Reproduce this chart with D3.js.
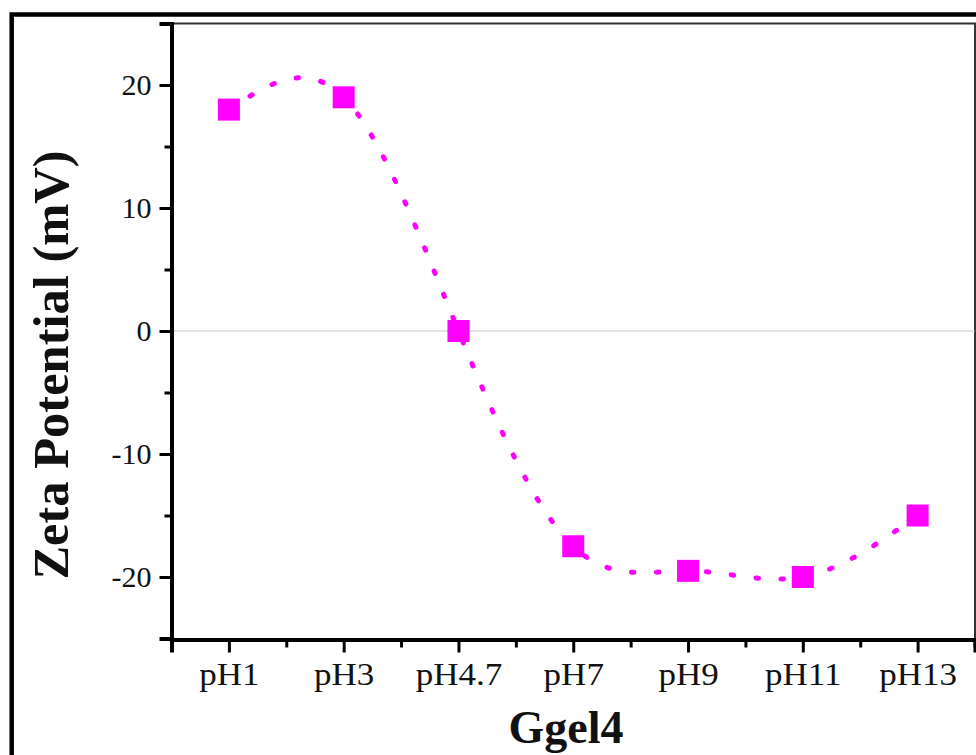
<!DOCTYPE html>
<html>
<head>
<meta charset="utf-8">
<script src="https://cdn.jsdelivr.net/npm/d3@7"></script>
<style>
  html, body { margin: 0; padding: 0; background: #fff; }
  svg { display: block; }
  text { font-family: "Liberation Serif", "Times New Roman", serif; }
</style>
</head>
<body>
<script>
// Zeta potential of Ggel4 across pH
const categories = ["pH1", "pH3", "pH4.7", "pH7", "pH9", "pH11", "pH13"];
const zeta = [18, 19, 0, -17.5, -19.5, -20, -15];
const yTicks = [-20, -10, 0, 10, 20];
const yMinorTicks = [-25, -15, -5, 5, 15, 25];
const xTitle = "Ggel4";
const yTitle = "Zeta Potential (mV)";

(function draw() {
  const W = 976, H = 755;
  const svg = d3.select("body").append("svg").attr("width", W).attr("height", H);

  const plotL = 171.5, plotR = 975, plotT = 23.5, plotB = 638.5;

  const x = d3.scaleLinear().domain([-0.5, categories.length - 0.5]).range([plotL, plotR]);
  const y = d3.scaleLinear().domain([-25, 25]).range([plotB, plotT]);

  // outer frame
  svg.append("rect")
    .attr("x", 11.7).attr("y", 14.5)
    .attr("width", W + 20).attr("height", H + 20)
    .attr("fill", "none").attr("stroke", "#000").attr("stroke-width", 4.5);

  // plot box (top and right edges)
  svg.append("path")
    .attr("d", `M${plotL},${plotT}H${plotR}V${plotB}`)
    .attr("fill", "none").attr("stroke", "#333").attr("stroke-width", 2);

  // zero reference line
  svg.append("line")
    .attr("x1", plotL).attr("x2", plotR)
    .attr("y1", y(0)).attr("y2", y(0))
    .attr("stroke", "#c8c8c8").attr("stroke-width", 1.2);

  // y axis
  const gy = svg.append("g").attr("transform", `translate(${plotL},0)`)
    .call(d3.axisLeft(y).tickValues(yTicks).tickSize(12).tickPadding(8).tickFormat(d => String(d)));
  svg.append("g").attr("transform", `translate(${plotL},0)`)
    .call(d3.axisLeft(y).tickValues(yMinorTicks).tickSize(7).tickFormat(""));

  // x axis
  const gx = svg.append("g").attr("transform", `translate(0,${plotB + 1})`)
    .call(d3.axisBottom(x).tickValues(d3.range(categories.length)).tickSize(13).tickPadding(11)
      .tickFormat(i => categories[i]));
  svg.append("g").attr("transform", `translate(0,${plotB + 1})`)
    .call(d3.axisBottom(x).tickValues(d3.range(categories.length + 1).map(i => i - 0.5)).tickSize(8).tickFormat(""));

  svg.selectAll(".domain").attr("stroke", "#000").attr("stroke-width", 4);
  svg.selectAll(".tick line").attr("stroke", "#000").attr("stroke-width", 3);
  svg.selectAll(".tick text")
    .attr("fill", "#111")
    .style("font-family", "'Liberation Serif', 'Times New Roman', serif");
  gy.selectAll(".tick text").style("font-size", "30px");
  gx.selectAll(".tick text")
    .style("font-size", "31px")
    .style("transform-box", "fill-box")
    .style("transform-origin", "center")
    .style("transform", "scaleX(1.13)");

  // smooth dotted connector
  const line = d3.line()
    .x((d, i) => x(i))
    .y(d => y(d))
    .curve(d3.curveNatural);

  svg.append("path")
    .datum(zeta)
    .attr("d", line)
    .attr("fill", "none")
    .attr("stroke", "#ff00ff")
    .attr("stroke-width", 5)
    .attr("stroke-linecap", "round")
    .attr("stroke-dasharray", "2.5 22.5");

  // square markers
  const ms = 22;
  svg.append("g").selectAll("rect")
    .data(zeta)
    .join("rect")
    .attr("x", (d, i) => x(i) - ms / 2)
    .attr("y", d => y(d) - ms / 2)
    .attr("width", ms).attr("height", ms)
    .attr("fill", "#ff00ff");

  // axis titles
  svg.append("text")
    .attr("x", 566).attr("y", 743)
    .attr("text-anchor", "middle")
    .style("font-size", "46px").style("font-weight", "bold")
    .attr("fill", "#111")
    .text(xTitle);

  svg.append("text")
    .attr("transform", "translate(68,365) rotate(-90)")
    .attr("text-anchor", "middle")
    .style("font-size", "50.5px").style("font-weight", "bold")
    .attr("fill", "#111")
    .text(yTitle);
})();
</script>
</body>
</html>
